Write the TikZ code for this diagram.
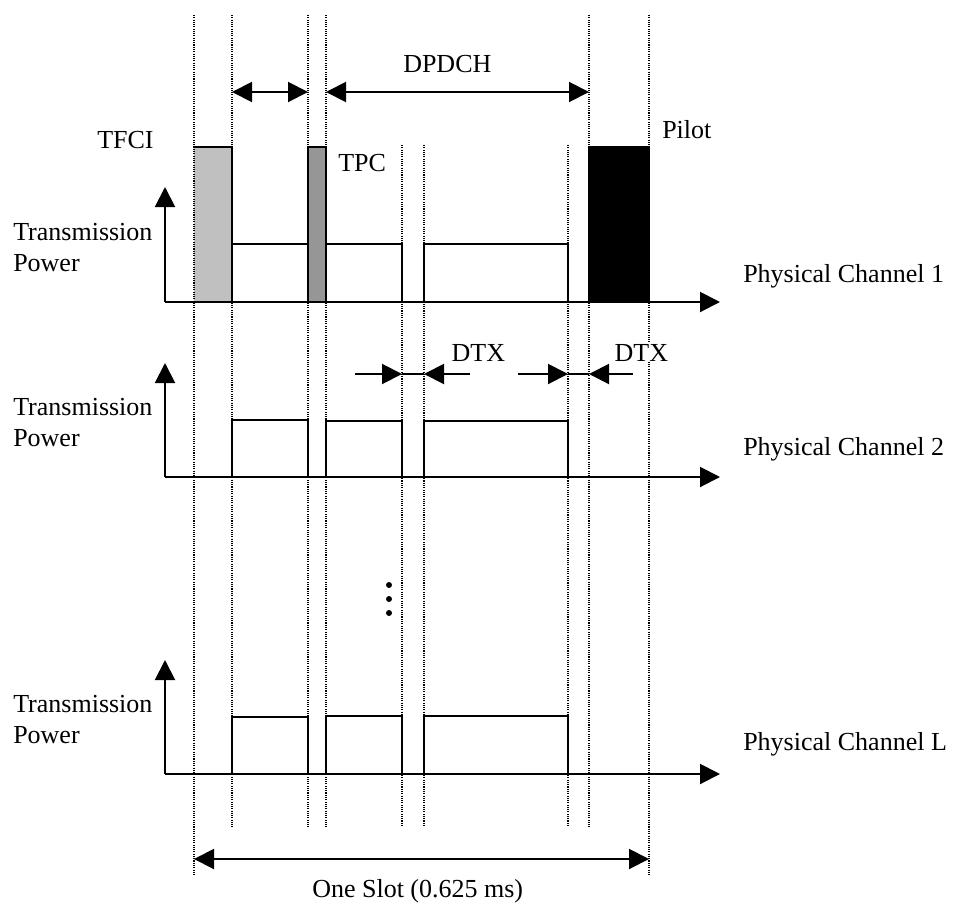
\documentclass[tikz,border=0pt]{standalone}
\usepackage{fontspec}
\setmainfont{Liberation Serif}
\usetikzlibrary{arrows.meta}
\definecolor{tfcigray}{RGB}{192,192,192}
\definecolor{tpcgray}{RGB}{150,150,150}
\begin{document}
\begin{tikzpicture}[x=0.75pt,y=-0.75pt,
  font=\fontsize{19.5}{23}\selectfont,
  lbl/.style={inner sep=0pt, anchor=base west},
  guide/.style={line width=0.8pt, dash pattern=on 0.8pt off 0.9pt},
  tip/.style={Triangle[length=15pt,width=15pt]},
  axis/.style={line width=1.5pt, -{Triangle[length=15pt,width=15pt]}},
  half/.style={line width=1.5pt, -{Triangle[length=15pt,width=15pt]}},
  dimarrow/.style={line width=1.5pt, {Triangle[length=15pt,width=15pt]}-{Triangle[length=15pt,width=15pt]}},
  plain/.style={line width=1.5pt},
  slotbox/.style={draw, line width=1.5pt, fill=white},
]
\useasboundingbox[fill=white] (0,0) rectangle (953,907);

% ---------- Channel 1 ----------
\fill[tfcigray] (194,147) rectangle (232,302);
\draw[plain] (194,147) -- (232,147) -- (232,302);
\draw[slotbox] (232,244) rectangle (308,302);
\draw[plain, fill=tpcgray] (308,147) rectangle (326,302);
\draw[slotbox] (326,244) rectangle (402,302);
\draw[slotbox] (424,244) rectangle (568,302);
\draw[plain, fill=black] (589,147) rectangle (649,302);

\coordinate (o1) at (165,302);
\coordinate (y1) at (165,187);
\coordinate (x1) at (720,302);
\draw[axis] (o1) -- (y1);
\draw[axis] (o1) -- (x1);

% ---------- Channel 2 ----------
\draw[slotbox] (232,420) rectangle (308,477);
\draw[slotbox] (326,421) rectangle (402,477);
\draw[slotbox] (424,421) rectangle (568,477);
\coordinate (o2) at (165,477);
\coordinate (y2) at (165,363);
\coordinate (x2) at (720,477);
\draw[axis] (o2) -- (y2);
\draw[axis] (o2) -- (x2);

% ---------- Channel L ----------
\draw[slotbox] (232,717) rectangle (308,774);
\draw[slotbox] (326,716) rectangle (402,774);
\draw[slotbox] (424,716) rectangle (568,774);
\coordinate (oL) at (165,774);
\coordinate (yL) at (165,660);
\coordinate (xL) at (720,774);
\draw[axis] (oL) -- (yL);
\draw[axis] (oL) -- (xL);

% ---------- dotted guide lines ----------
\draw[guide] (194,15) -- (194,875);
\draw[guide] (232,15) -- (232,827);
\draw[guide] (308,15) -- (308,827);
\draw[guide] (326,15) -- (326,827);
\draw[guide] (402,145) -- (402,827);
\draw[guide] (424,145) -- (424,827);
\draw[guide] (568,145) -- (568,827);
\draw[guide] (589,15) -- (589,827);
\draw[guide] (649,15) -- (649,875);

% ---------- top dimension arrows ----------
\coordinate (ctrlL) at (232,92);
\coordinate (ctrlR) at (308,92);
\coordinate (dataL) at (326,92);
\coordinate (dataR) at (589,92);
\draw[dimarrow] (ctrlL) -- (ctrlR);
\draw[dimarrow] (dataL) -- (dataR);

% ---------- DTX arrows ----------
\coordinate (d1a) at (355,374);
\coordinate (d1b) at (402,374);
\coordinate (d1c) at (424,374);
\coordinate (d1d) at (470,374);
\draw[half] (d1a) -- (d1b);
\draw[plain] (d1b) -- (d1c);
\draw[half] (d1d) -- (d1c);
\coordinate (d2a) at (518,374);
\coordinate (d2b) at (568,374);
\coordinate (d2c) at (589,374);
\coordinate (d2d) at (633,374);
\draw[half] (d2a) -- (d2b);
\draw[plain] (d2b) -- (d2c);
\draw[half] (d2d) -- (d2c);

% ---------- slot arrow ----------
\coordinate (slotL) at (194,859);
\coordinate (slotR) at (649,859);
\draw[dimarrow] (slotL) -- (slotR);

% ---------- dots ----------
\fill (389,585) circle (3);
\fill (389,599) circle (3);
\fill (389,613) circle (3);

% ---------- labels ----------
\node[lbl] (tfci) at (97,148) {TFCI};
\node[lbl] (tpc) at (338,171) {TPC};
\node[lbl] (pilot) at (662,138) {Pilot};
\node[lbl] (dpdch) at (403,72) {DPDCH};
\node[lbl, fill=white, inner sep=1pt] (dtx1) at (450,361) {DTX};
\node[lbl, fill=white, inner sep=1pt] (dtx2) at (613,361) {DTX};

\node[lbl] (tp1a) at (13,240) {Transmission};
\node[lbl] (tp1b) at (13,271) {Power};
\node[lbl] (tp2a) at (13,415) {Transmission};
\node[lbl] (tp2b) at (13,446) {Power};
\node[lbl] (tpLa) at (13,712) {Transmission};
\node[lbl] (tpLb) at (13,743) {Power};

\node[lbl] (pc1) at (743,282) {Physical Channel 1};
\node[lbl] (pc2) at (743,455) {Physical Channel 2};
\node[lbl] (pcL) at (743,750) {Physical Channel L};

\node[lbl] (slot) at (312,897) {One Slot (0.625 ms)};
\end{tikzpicture}
\end{document}
